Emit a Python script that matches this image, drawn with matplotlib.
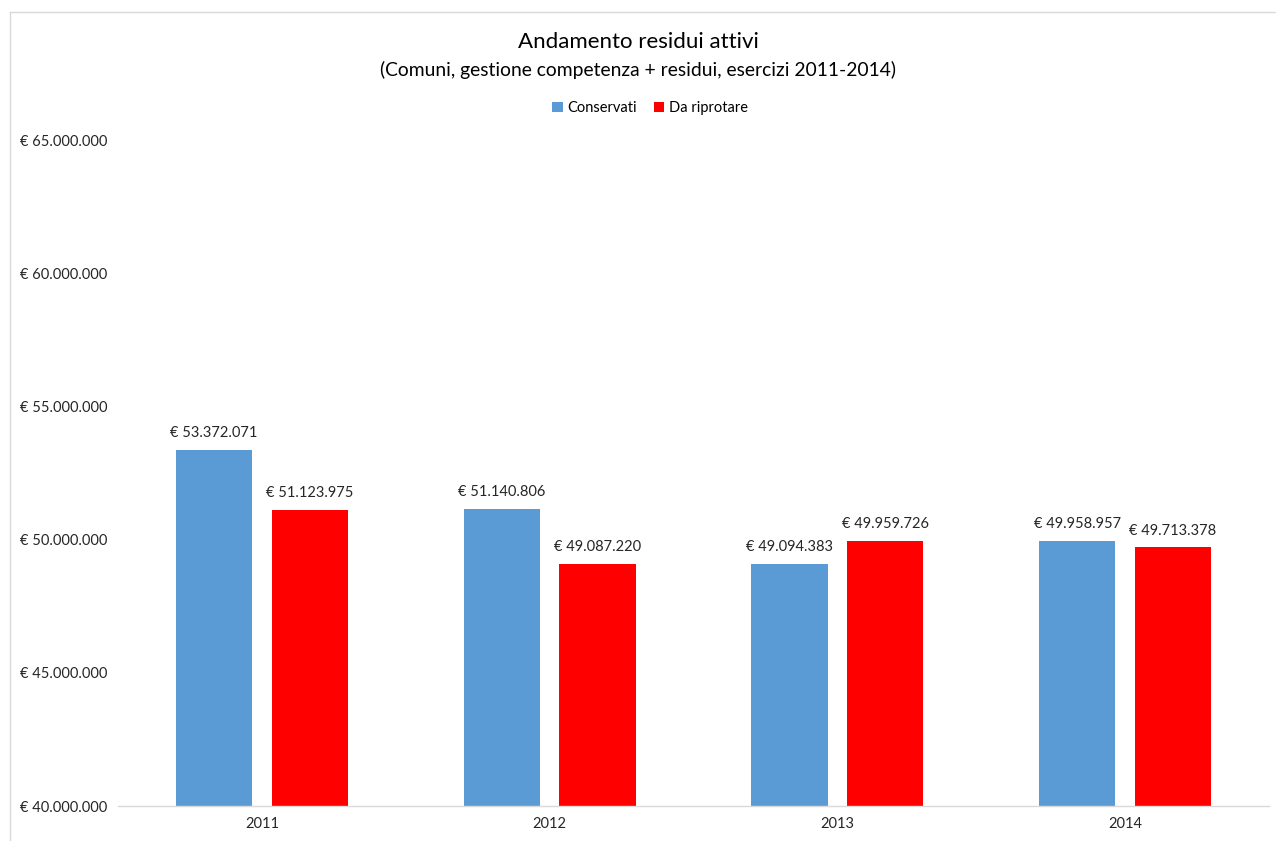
import numpy as np
import matplotlib
matplotlib.use("Agg")
import matplotlib.pyplot as plt
from matplotlib.lines import Line2D

years = ["2011", "2012", "2013", "2014"]
conservati = [53372071, 51140806, 49094383, 49958957]
da_riportare = [51123975, 49087220, 49959726, 49713378]
y_ticks = [40000000, 45000000, 50000000, 55000000, 60000000, 65000000]

plt.rcParams['font.family'] = ['Lato', 'DejaVu Sans']


def euro(v):
    return "€ " + f"{int(round(v)):,}".replace(",", ".")


W, H = 1276, 841
fig = plt.figure(figsize=(W / 100, H / 100), dpi=100)
ax = fig.add_axes([118 / W, 35 / H, (1269 - 118) / W, (806 - 140) / H])

x = np.arange(len(years))
bw = 0.265
off = 0.166
b1 = ax.bar(x - off, conservati, bw, color="#5b9bd5", label="Conservati")
b2 = ax.bar(x + off, da_riportare, bw, color="#ff0000", label="Da riprotare")

for bars, vals in ((b1, conservati), (b2, da_riportare)):
    for rect, v in zip(bars, vals):
        ax.annotate(euro(v), (rect.get_x() + rect.get_width() / 2, v),
                    xytext=(0, 7), textcoords="offset points",
                    ha="center", va="bottom", fontsize=10.5, color="#262626")

ax.set_xlim(-0.5, len(years) - 0.5)
ax.set_ylim(y_ticks[0], y_ticks[-1])
ax.set_xticks(x)
ax.set_xticklabels(years, fontsize=10.5, color="#262626")
ax.set_yticks(y_ticks)
ax.set_yticklabels([euro(v) for v in y_ticks], fontsize=10.5, color="#262626")
for lab in ax.get_yticklabels():
    lab.set_horizontalalignment("left")
ax.tick_params(axis="y", length=0, pad=70.5)
ax.tick_params(axis="x", length=0, pad=8)

for s in ("top", "right", "left"):
    ax.spines[s].set_visible(False)
ax.spines["bottom"].set_color("#d9d9d9")
ax.spines["bottom"].set_linewidth(1)

fig.text(0.5, 1 - 42 / H, "Andamento residui attivi", ha="center", va="center",
         fontsize=16, color="#000000")
fig.text(0.5, 1 - 70 / H, "(Comuni, gestione competenza + residui, esercizi 2011-2014)",
         ha="center", va="center", fontsize=13.9, color="#000000")

fig.legend(loc="center", bbox_to_anchor=(0.5 + 12 / W, 1 - 108 / H), ncol=2, frameon=False,
           fontsize=10.5, handlelength=0.7, handleheight=0.7, handletextpad=0.3,
           columnspacing=1.2)

# outer chart border (left and top only visible)
fig.add_artist(Line2D([10 / W, 10 / W], [0, 1 - 12 / H], transform=fig.transFigure,
                      color="#d9d9d9", linewidth=1))
fig.add_artist(Line2D([10 / W, 1], [1 - 12 / H, 1 - 12 / H], transform=fig.transFigure,
                      color="#d9d9d9", linewidth=1))

fig.savefig("out.png", dpi=100, facecolor="white")
